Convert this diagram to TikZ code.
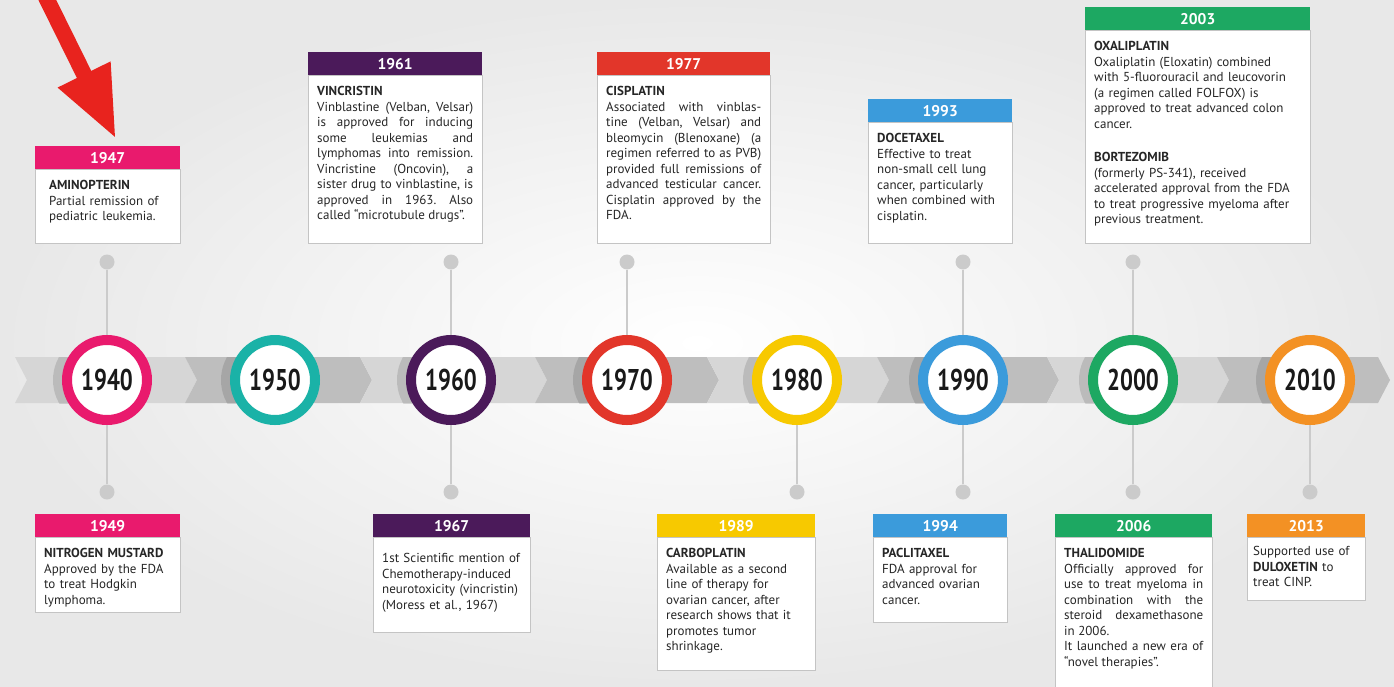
\documentclass[tikz,border=0pt]{standalone}
\usepackage{fontspec}
\setmainfont{PT Sans}
\newfontfamily\decadefont{PT Sans}[FakeStretch=0.76]
\usepackage{tikz}
\usetikzlibrary{arrows.meta}
\frenchspacing

\definecolor{pinkc}{HTML}{E91A6D}
\definecolor{tealc}{HTML}{1AB2A7}
\definecolor{purplec}{HTML}{4B1A5A}
\definecolor{redc}{HTML}{E2362A}
\definecolor{yellowc}{HTML}{F7C900}
\definecolor{bluec}{HTML}{3B9BDB}
\definecolor{greenc}{HTML}{1DA862}
\definecolor{orangec}{HTML}{F39124}
\definecolor{arrowred}{HTML}{E8231E}
\definecolor{bandlight}{HTML}{D6D6D6}
\definecolor{banddark}{HTML}{BEBEBE}
\definecolor{dotgray}{HTML}{CBCBCB}
\definecolor{boxgray}{HTML}{C4C4C4}

\begin{document}
\begin{tikzpicture}[x=1pt, y=-1pt,
    yearhead/.style={fill=#1, text=white, font=\bfseries\fontsize{15.5}{15.5}\selectfont,
        minimum height=23pt, inner sep=0pt, anchor=north west},
    eventbody/.style={draw=boxgray, fill=white, anchor=north west, inner xsep=9pt, inner ysep=0pt,
        text height=20pt, text depth=#1, align=left, text=black!85,
        font=\fontsize{13}{15.5}\selectfont},
    decade/.style={circle, draw=#1, line width=10pt, fill=white, minimum size=80pt, inner sep=0pt,
        text=black!90, font=\decadefont\bfseries\fontsize{30}{30}\selectfont},
    stem/.style={draw=dotgray, line width=2pt},
    dot/.style={circle, fill=dotgray, minimum size=15pt, inner sep=0pt}]

    \useasboundingbox (0,0) rectangle (1394,686);
    \clip (0,0) rectangle (1394,686);
    \shade[inner color=white, outer color=black!9] (0,0) rectangle (1394,686);

    % chevron band
    \foreach \xa/\xb/\tone in {15/185/bandlight, 185/360/banddark, 360/535/bandlight, 535/707/banddark,
                               707/877/bandlight, 877/1047/banddark, 1047/1217/bandlight, 1217/1378/banddark}
        \fill[\tone] (\xa,357) -- (\xb,357) -- (\xb+12,380) -- (\xb,403) -- (\xa,403) -- (\xa+12,380) -- cycle;

    % shadows of the rings on the band
    \begin{scope}
        \clip (15,357) rectangle (1392,403);
        \foreach \xc in {107,275,451,627,797,963,1133,1310}
            \fill[black, opacity=0.12] (\xc-7,380) circle (47);
    \end{scope}

    % decade rings
    \foreach \yr/\xc/\col in {1940/107/pinkc, 1950/275/tealc, 1960/451/purplec, 1970/627/redc,
                              1980/797/yellowc, 1990/963/bluec, 2000/1133/greenc, 2010/1310/orangec}
        \node[decade=\col] (c\yr) at (\xc,380) {\yr};

    % stems up and down
    \foreach \yr/\xc in {1940/107, 1960/451, 1970/627, 1990/963, 2000/1133} {
        \node[dot] (up\yr) at (\xc,262) {};
        \draw[stem] (up\yr) -- (c\yr);
    }
    \foreach \yr/\xc in {1940/107, 1960/451, 1980/797, 1990/963, 2000/1133, 2010/1310} {
        \node[dot] (dn\yr) at (\xc,492) {};
        \draw[stem] (dn\yr) -- (c\yr);
    }

    % events above the line
    \node[yearhead=pinkc, minimum width=145pt] (h1947) at (35,146) {1947};
    \node[eventbody=54pt, text width=117pt, inner xsep=14pt] (b1947) at (h1947.south west)
        {\textbf{AMINOPTERIN}\\ Partial remission of\\ pediatric leukemia.};

    \node[yearhead=purplec, minimum width=174pt] (h1961) at (308,52) {1961};
    \node[eventbody=148pt, text width=156pt, align=justify] (b1961) at (h1961.south west)
        {\textbf{VINCRISTIN}\par Vinblastine (Velban, Velsar)\linebreak is approved for inducing\linebreak
         some leukemias and\linebreak lymphomas into remission.\linebreak Vincristine (Oncovin), a\linebreak
         sister drug to vinblastine, is\linebreak approved in 1963. Also\linebreak called ``microtubule drugs''.};

    \node[yearhead=redc, minimum width=173pt] (h1977) at (597,52) {1977};
    \node[eventbody=148pt, text width=155pt, align=justify] (b1977) at (h1977.south west)
        {\textbf{CISPLATIN}\par Associated with vinblas-\linebreak tine (Velban, Velsar) and\linebreak
         bleomycin (Blenoxane) (a\linebreak regimen referred to as PVB)\linebreak provided full remissions of\linebreak
         advanced testicular cancer.\linebreak Cisplatin approved by the\linebreak FDA.};

    \node[yearhead=bluec, minimum width=144pt] (h1993) at (868,99) {1993};
    \node[eventbody=101pt, text width=126pt] (b1993) at (h1993.south west)
        {\textbf{DOCETAXEL}\\ Effective to treat\\ non-small cell lung\\ cancer, particularly\\
         when combined with\\ cisplatin.};

    \node[yearhead=greenc, minimum width=225pt] (h2003) at (1085,7) {2003};
    \node[eventbody=193pt, text width=207pt] (b2003) at (h2003.south west)
        {\textbf{OXALIPLATIN}\\ Oxaliplatin (Eloxatin) combined\\ with 5-fluorouracil and leucovorin\\
         (a regimen called FOLFOX) is\\ approved to treat advanced colon\\ cancer.\\[18pt]
         \textbf{BORTEZOMIB}\\ (formerly PS-341), received\\ accelerated approval from the FDA\\
         to treat progressive myeloma after\\ previous treatment.};

    % events below the line
    \node[yearhead=pinkc, minimum width=145pt] (h1949) at (35,514) {1949};
    \node[eventbody=55pt, text width=127pt] (b1949) at (h1949.south west)
        {\textbf{NITROGEN MUSTARD}\\ Approved by the FDA\\ to treat Hodgkin\\ lymphoma.};

    \node[yearhead=purplec, minimum width=157pt] (h1967) at (373,514) {1967};
    \node[eventbody=70pt, text width=139pt, text height=25pt] (b1967) at (h1967.south west)
        {1st Scientific mention of\\ Chemotherapy-induced\\ neurotoxicity (vincristin)\\ (Moress et al., 1967)};

    \node[yearhead=yellowc, minimum width=158pt] (h1989) at (657,514) {1989};
    \node[eventbody=113pt, text width=140pt] (b1989) at (h1989.south west)
        {\textbf{CARBOPLATIN}\\ Available as a second\\ line of therapy for\\ ovarian cancer, after\\
         research shows that it\\ promotes tumor\\ shrinkage.};

    \node[yearhead=bluec, minimum width=134pt] (h1994) at (873,514) {1994};
    \node[eventbody=65pt, text width=116pt] (b1994) at (h1994.south west)
        {\textbf{PACLITAXEL}\\ FDA approval for\\ advanced ovarian\\ cancer.};

    \node[yearhead=greenc, minimum width=157pt] (h2006) at (1055,514) {2006};
    \node[eventbody=133pt, text width=139pt, align=justify] (b2006) at (h2006.south west)
        {\textbf{THALIDOMIDE}\par Officially approved for\linebreak use to treat myeloma in\linebreak
         combination with the\linebreak steroid dexamethasone\linebreak in 2006.\par
         It launched a new era of\linebreak ``novel therapies''.};

    \node[yearhead=orangec, minimum width=118pt] (h2013) at (1247,514) {2013};
    \node[eventbody=45pt, text width=106pt, inner xsep=6pt, text height=18pt] (b2013) at (h2013.south west)
        {Supported use of\\ \textbf{DULOXETIN} to\\ treat CINP.};

    % pointer
    \coordinate (arrowtail) at (31,-33);
    \coordinate (arrowtip) at (116,139);
    \draw[arrowred, line width=16pt, -{Triangle[length=72pt, width=54pt]}] (arrowtail) -- (arrowtip);
\end{tikzpicture}
\end{document}
